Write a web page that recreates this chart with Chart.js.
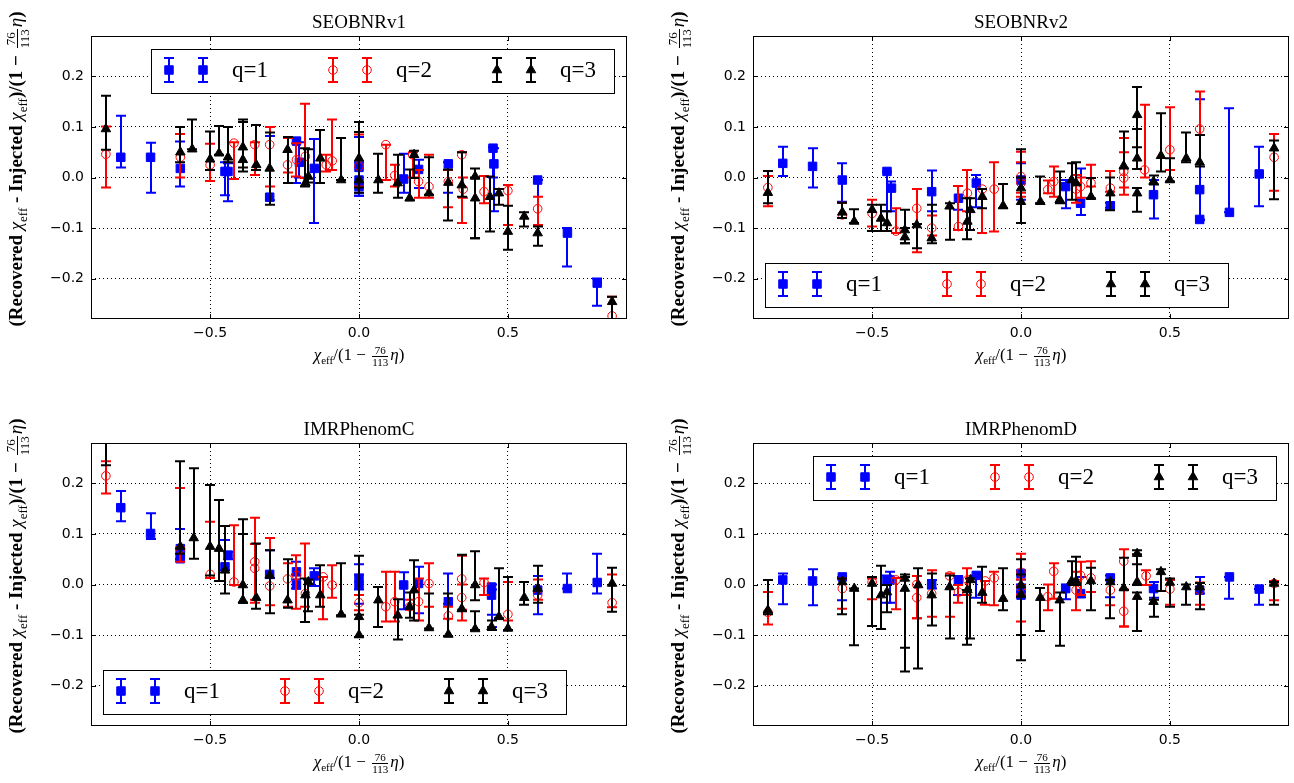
<!DOCTYPE html>
<html>
<head>
<meta charset="utf-8">
<title>Recovered minus injected chi_eff</title>
<script src="https://cdn.jsdelivr.net/npm/chart.js"></script>
<style>
  body { margin: 0; background: #fff; }
  #page { position: relative; width: 1294px; height: 783px; overflow: hidden; font-family: "Liberation Serif", serif; color: #000; }
  canvas { position: absolute; }
  .title { position: absolute; width: 536px; text-align: center; font-size: 19px; line-height: 19px; white-space: nowrap; }
  .xlabel { position: absolute; width: 536px; height: 30px; line-height: 30px; text-align: center; font-size: 17px; white-space: nowrap; }
  .xlabel .frac, .xlabel sub { font-size: 11px; line-height: 11px; }
  .ylabel { position: absolute; width: 460px; height: 30px; line-height: 30px; text-align: center; font-size: 19px; font-weight: bold; white-space: nowrap; transform: rotate(-90deg); }
  .frac { display: inline-flex; flex-direction: column; vertical-align: middle; font-size: 13px; line-height: 13px; text-align: center; font-weight: normal; margin: 0 2px; }
  .frac span:first-child { border-bottom: 1px solid #000; }
  sub { font-size: 13px; font-weight: normal; }
  i { font-weight: normal; }
</style>
</head>
<body>
<div id="page"></div>
<script>
const titles = ["SEOBNRv1", "SEOBNRv2", "IMRPhenomC", "IMRPhenomD"];
const seriesLabels = ["q=1", "q=2", "q=3"];
const xTicks = [-0.5, 0, 0.5];
const yTicks = [-0.2, -0.1, 0, 0.1, 0.2];

// each point: [x, y, lower end, upper end]
const v1_q1 = [
  [-0.80, 0.040, 0.020, 0.122], [-0.70, 0.040, -0.030, 0.069], [-0.60, 0.018, -0.018, 0.071],
  [-0.45, 0.012, -0.035, 0.030], [-0.44, 0.012, -0.047, 0.028], [-0.30, -0.039, -0.045, 0.082],
  [-0.21, 0.072, -0.011, 0.078], [-0.20, 0.030, 0.000, 0.070], [-0.15, 0.018, -0.090, 0.076],
  [0.0, 0.020, -0.036, 0.080], [0.0, -0.005, -0.030, 0.030], [0.0, -0.018, -0.036, 0.020],
  [0.15, -0.003, -0.030, 0.047], [0.20, 0.016, -0.021, 0.035], [0.30, 0.027, -0.030, 0.030],
  [0.45, 0.058, 0.000, 0.060], [0.453, 0.027, -0.067, 0.058], [0.60, -0.005, -0.094, -0.005],
  [0.70, -0.110, -0.176, -0.100], [0.80, -0.209, -0.254, -0.200],
];
const v1_q2 = [
  [-0.85, 0.046, -0.020, 0.101], [-0.60, 0.040, 0.000, 0.086], [-0.50, 0.025, -0.007, 0.067],
  [-0.42, 0.068, -0.003, 0.070], [-0.35, 0.065, 0.005, 0.070], [-0.30, 0.065, -0.018, 0.100],
  [-0.24, 0.025, 0.010, 0.078], [-0.21, 0.035, 0.002, 0.068], [-0.18, 0.042, -0.001, 0.146],
  [-0.11, 0.025, 0.012, 0.045], [-0.09, 0.033, 0.015, 0.115], [0.0, 0.022, -0.018, 0.085],
  [0.09, 0.065, -0.005, 0.065], [0.12, 0.004, -0.018, 0.025], [0.18, 0.045, 0.000, 0.050],
  [0.20, -0.008, -0.040, 0.015], [0.235, -0.018, -0.040, 0.045], [0.30, -0.008, -0.059, 0.015],
  [0.345, 0.045, -0.090, 0.050], [0.35, -0.023, -0.040, 0.000], [0.42, -0.028, -0.051, 0.003],
  [0.50, -0.026, -0.094, -0.015], [0.60, -0.062, -0.094, -0.038], [0.85, -0.274, -0.280, -0.236],
];
const v1_q3 = [
  [-0.85, 0.096, 0.055, 0.162], [-0.60, 0.050, 0.030, 0.100], [-0.56, 0.056, 0.056, 0.115],
  [-0.50, 0.036, 0.015, 0.091], [-0.47, 0.048, 0.045, 0.102], [-0.44, 0.040, 0.030, 0.100],
  [-0.39, 0.060, 0.012, 0.115], [-0.39, 0.035, 0.020, 0.110], [-0.345, 0.025, 0.015, 0.104],
  [-0.30, 0.018, -0.054, 0.089], [-0.24, 0.055, -0.011, 0.080], [-0.18, -0.011, -0.018, 0.058],
  [-0.17, 0.002, -0.010, 0.056], [-0.13, 0.038, -0.011, 0.094], [-0.06, -0.005, -0.005, 0.078],
  [0.0, 0.038, -0.030, 0.110], [0.0, -0.005, -0.020, 0.090], [0.065, -0.005, -0.030, 0.047],
  [0.13, -0.011, -0.040, 0.045], [0.17, -0.041, -0.045, 0.016], [0.185, 0.045, -0.001, 0.053],
  [0.235, -0.031, -0.034, 0.040], [0.30, -0.010, -0.085, 0.016], [0.345, -0.015, -0.038, 0.050],
  [0.39, 0.002, -0.120, 0.018], [0.39, -0.041, -0.120, 0.000], [0.44, -0.038, -0.107, 0.002],
  [0.47, -0.031, -0.054, -0.023], [0.50, -0.107, -0.143, -0.056], [0.555, -0.077, -0.097, -0.069],
  [0.60, -0.110, -0.135, -0.097], [0.85, -0.246, -0.290, -0.236],
];

const v2_q1 = [
  [-0.80, 0.028, 0.003, 0.061], [-0.70, 0.022, -0.020, 0.058], [-0.60, -0.005, -0.048, 0.028],
  [-0.45, 0.012, -0.067, 0.012], [-0.435, -0.021, -0.067, -0.008], [-0.30, -0.028, -0.067, 0.014],
  [-0.21, -0.041, -0.064, -0.017], [-0.15, -0.011, -0.059, 0.005], [0.0, -0.005, -0.044, 0.028],
  [0.15, -0.018, -0.061, -0.005], [0.20, -0.051, -0.074, 0.018], [0.30, -0.056, -0.060, -0.050],
  [0.445, -0.034, -0.081, -0.005], [0.60, -0.024, -0.084, 0.155], [0.60, -0.083, -0.084, -0.083],
  [0.70, -0.069, -0.069, 0.137], [0.80, 0.007, -0.057, 0.061],
];
const v2_q2 = [
  [-0.85, -0.020, -0.057, 0.003], [-0.60, -0.074, -0.080, -0.050], [-0.50, -0.071, -0.097, -0.044],
  [-0.42, -0.106, -0.110, -0.061], [-0.35, -0.061, -0.148, -0.023], [-0.30, -0.100, -0.115, -0.075],
  [-0.21, -0.097, -0.104, -0.017], [-0.18, -0.031, -0.067, 0.015], [-0.13, -0.023, -0.110, -0.023],
  [-0.09, -0.023, -0.107, 0.030], [0.0, 0.002, -0.038, 0.051], [0.0, -0.011, -0.030, 0.030],
  [0.09, -0.024, -0.031, -0.006], [0.11, -0.008, -0.038, 0.022], [0.185, -0.023, -0.050, 0.005],
  [0.20, -0.018, -0.040, 0.000], [0.235, -0.011, -0.018, 0.025], [0.30, -0.021, -0.028, 0.013],
  [0.345, -0.001, -0.034, 0.078], [0.345, 0.012, -0.020, 0.050], [0.415, 0.015, 0.000, 0.144],
  [0.50, 0.055, 0.015, 0.139], [0.60, 0.096, 0.084, 0.170], [0.85, 0.040, -0.026, 0.086],
];
const v2_q3 = [
  [-0.85, -0.030, -0.051, 0.013], [-0.60, -0.069, -0.080, -0.050], [-0.56, -0.087, -0.090, -0.063],
  [-0.50, -0.064, -0.106, -0.054], [-0.47, -0.081, -0.106, -0.054], [-0.45, -0.090, -0.106, -0.067],
  [-0.39, -0.104, -0.130, -0.064], [-0.39, -0.118, -0.130, -0.100], [-0.35, -0.094, -0.140, -0.092],
  [-0.30, -0.120, -0.130, -0.054], [-0.24, -0.057, -0.123, -0.051], [-0.18, -0.087, -0.122, -0.041],
  [-0.17, -0.064, -0.104, -0.041], [-0.13, -0.038, -0.061, -0.023], [-0.06, -0.056, -0.061, -0.013],
  [0.0, -0.021, -0.090, 0.056], [0.0, -0.048, -0.090, 0.000], [0.065, -0.048, -0.051, 0.002],
  [0.13, -0.044, -0.051, 0.012], [0.17, -0.005, -0.044, 0.028], [0.185, -0.011, -0.015, 0.030],
  [0.235, -0.038, -0.041, -0.001], [0.30, -0.031, -0.065, 0.000], [0.345, 0.023, 0.018, 0.091],
  [0.39, 0.124, 0.060, 0.179], [0.39, 0.038, 0.017, 0.096], [0.39, -0.031, -0.068, -0.021],
  [0.445, -0.008, -0.014, 0.004], [0.47, 0.043, 0.012, 0.127], [0.50, -0.005, -0.008, 0.038],
  [0.555, 0.038, 0.030, 0.089], [0.60, 0.030, 0.022, 0.084], [0.85, 0.058, -0.043, 0.073],
];

const c_q1 = [
  [-0.80, 0.152, 0.125, 0.185], [-0.70, 0.101, 0.090, 0.141], [-0.60, 0.071, 0.050, 0.110],
  [-0.60, 0.061, 0.050, 0.072], [-0.60, 0.051, 0.050, 0.072], [-0.45, 0.035, 0.028, 0.088],
  [-0.44, 0.058, 0.050, 0.065], [-0.30, 0.020, 0.013, 0.068], [-0.21, 0.025, 0.020, 0.045],
  [-0.21, -0.001, -0.008, 0.010], [-0.15, 0.017, -0.003, 0.032], [0.0, 0.012, -0.038, 0.040],
  [0.0, -0.001, -0.010, 0.020], [0.15, -0.001, -0.049, 0.024], [0.20, 0.002, -0.057, 0.035],
  [0.30, -0.034, -0.038, 0.022], [0.445, -0.005, -0.084, 0.000], [0.445, -0.021, -0.060, -0.010],
  [0.60, -0.011, -0.059, 0.017], [0.70, -0.008, -0.008, 0.022], [0.80, 0.004, -0.018, 0.061],
];
const c_q2 = [
  [-0.85, 0.215, 0.180, 0.244], [-0.60, 0.071, 0.045, 0.191], [-0.50, 0.020, 0.013, 0.124],
  [-0.42, 0.005, -0.001, 0.117], [-0.35, 0.045, -0.036, 0.132], [-0.35, 0.032, -0.030, 0.080],
  [-0.30, -0.003, -0.041, 0.092], [-0.24, 0.011, -0.044, 0.042], [-0.21, 0.018, -0.048, 0.058],
  [-0.18, -0.018, -0.044, 0.081], [-0.12, 0.015, -0.069, 0.015], [-0.09, -0.001, -0.026, 0.038],
  [0.0, -0.036, -0.051, -0.021], [0.09, -0.044, -0.073, 0.025], [0.12, -0.034, -0.073, 0.025],
  [0.17, -0.044, -0.050, -0.030], [0.20, -0.034, -0.071, 0.012], [0.235, 0.002, -0.044, 0.042],
  [0.30, -0.062, -0.068, -0.044], [0.345, 0.011, -0.071, 0.057], [0.345, -0.026, -0.050, 0.000],
  [0.42, 0.004, -0.021, 0.012], [0.50, -0.059, -0.071, 0.005], [0.60, -0.021, -0.030, 0.010],
  [0.85, -0.036, -0.045, 0.020],
];
const c_q3 = [
  [-0.85, 0.300, 0.236, 0.360], [-0.60, 0.075, 0.061, 0.244], [-0.555, 0.092, 0.051, 0.230],
  [-0.50, 0.075, 0.018, 0.197], [-0.47, 0.071, 0.007, 0.167], [-0.45, 0.028, -0.018, 0.116],
  [-0.39, -0.001, -0.036, 0.129], [-0.39, -0.031, -0.036, 0.100], [-0.345, -0.026, -0.048, 0.081],
  [-0.30, 0.018, -0.057, 0.068], [-0.24, -0.031, -0.046, 0.050], [-0.18, -0.021, -0.074, 0.012],
  [-0.17, 0.005, -0.053, 0.010], [-0.13, -0.021, -0.044, 0.038], [-0.06, -0.059, -0.061, 0.042],
  [0.0, -0.064, -0.104, 0.057], [0.0, -0.100, -0.104, -0.060], [0.065, -0.031, -0.084, -0.005],
  [0.13, -0.061, -0.109, -0.029], [0.17, -0.044, -0.066, -0.016], [0.185, -0.011, -0.071, 0.048],
  [0.235, -0.086, -0.087, -0.018], [0.30, -0.099, -0.102, -0.018], [0.345, -0.048, -0.053, 0.059],
  [0.39, -0.001, -0.031, 0.066], [0.39, -0.088, -0.090, -0.053], [0.445, -0.084, -0.090, -0.071],
  [0.47, -0.064, -0.067, 0.032], [0.50, -0.087, -0.090, 0.015], [0.555, -0.026, -0.040, 0.005],
  [0.60, -0.008, -0.036, 0.037], [0.85, 0.002, -0.054, 0.033],
];

const d_q1 = [
  [-0.80, 0.009, -0.039, 0.022], [-0.70, 0.007, -0.041, 0.030], [-0.60, 0.015, -0.031, 0.015],
  [-0.45, 0.009, -0.036, 0.018], [-0.44, 0.009, -0.036, 0.025], [-0.30, 0.000, -0.008, 0.009],
  [-0.21, 0.009, -0.021, 0.017], [-0.15, 0.018, -0.026, 0.018], [0.0, 0.022, -0.021, 0.026],
  [0.0, -0.008, -0.021, 0.010], [0.0, -0.021, -0.021, 0.000], [0.15, -0.008, -0.029, 0.000],
  [0.20, -0.018, -0.025, 0.015], [0.30, 0.013, -0.025, 0.018], [0.445, -0.008, -0.026, 0.005],
  [0.60, -0.011, -0.018, 0.015], [0.70, 0.015, -0.028, 0.015], [0.80, -0.009, -0.040, -0.009],
];
const d_q2 = [
  [-0.85, -0.055, -0.079, -0.015], [-0.60, -0.008, -0.048, 0.012], [-0.50, 0.005, -0.029, 0.012],
  [-0.42, 0.009, -0.049, 0.013], [-0.35, 0.000, -0.067, 0.017], [-0.35, -0.026, -0.067, 0.017],
  [-0.30, -0.018, -0.064, 0.028], [-0.24, 0.017, -0.064, 0.022], [-0.21, -0.015, -0.036, -0.001],
  [-0.18, 0.009, -0.021, 0.032], [-0.12, 0.007, -0.040, 0.007], [-0.09, 0.013, -0.041, 0.025],
  [0.0, 0.024, -0.073, 0.061], [0.0, -0.005, -0.020, 0.010], [0.09, -0.024, -0.051, 0.000],
  [0.11, 0.026, -0.028, 0.042], [0.185, -0.011, -0.051, 0.025], [0.20, 0.018, -0.021, 0.045],
  [0.235, 0.013, -0.015, 0.046], [0.30, -0.011, -0.041, 0.009], [0.345, 0.046, -0.083, 0.070],
  [0.345, -0.053, -0.083, -0.010], [0.42, 0.017, -0.001, 0.028], [0.50, -0.009, -0.040, 0.009],
  [0.60, -0.011, -0.040, 0.004], [0.85, 0.002, -0.031, 0.007],
];
const d_q3 = [
  [-0.85, -0.051, -0.059, 0.009], [-0.60, 0.005, -0.059, 0.012], [-0.56, -0.008, -0.120, -0.008],
  [-0.50, 0.002, -0.082, 0.015], [-0.47, -0.021, -0.088, 0.037], [-0.45, -0.015, -0.055, -0.001],
  [-0.39, 0.012, -0.172, 0.020], [-0.39, -0.008, -0.125, 0.015], [-0.345, -0.001, -0.166, 0.032],
  [-0.30, -0.021, -0.081, 0.022], [-0.24, -0.005, -0.107, 0.018], [-0.18, -0.011, -0.119, -0.011],
  [-0.17, 0.009, -0.107, 0.012], [-0.13, -0.016, -0.036, 0.035], [-0.06, -0.028, -0.051, 0.032],
  [0.0, -0.001, -0.150, 0.050], [0.0, -0.020, -0.100, 0.020], [0.065, -0.026, -0.092, -0.007],
  [0.13, -0.031, -0.121, -0.016], [0.17, 0.007, -0.001, 0.046], [0.185, 0.007, -0.001, 0.055],
  [0.235, 0.007, -0.051, 0.033], [0.30, 0.005, -0.067, 0.009], [0.345, -0.007, -0.011, 0.053],
  [0.39, 0.061, 0.040, 0.068], [0.39, 0.005, -0.001, 0.060], [0.39, -0.024, -0.092, -0.016],
  [0.445, -0.034, -0.064, -0.030], [0.47, 0.025, -0.013, 0.030], [0.50, 0.004, -0.044, 0.012],
  [0.555, -0.005, -0.040, 0.000], [0.60, -0.005, -0.049, 0.003], [0.85, 0.002, -0.040, 0.005],
];

const panels = [
  { title: titles[0], series: [v1_q1, v1_q2, v1_q3], area: [91, 36], legend: "top" },
  { title: titles[1], series: [v2_q1, v2_q2, v2_q3], area: [753, 36], legend: "bottom" },
  { title: titles[2], series: [c_q1, c_q2, c_q3], area: [91, 443], legend: "bottom" },
  { title: titles[3], series: [d_q1, d_q2, d_q3], area: [753, 443], legend: "top" },
];

const styles = [
  { color: "#0000ff", pointStyle: "rect", radius: 6, fill: "#0000ff" },
  { color: "#ff0000", pointStyle: "circle", radius: 4.3, fill: "rgba(0,0,0,0)" },
  { color: "#000000", pointStyle: "triangle", radius: 5.5, fill: "#000000" },
];

const AREA_W = 536, AREA_H = 283, AXIS_W = 91, PAD_TOP = 36;
const fmt = (v) => (v < 0 ? "−" : "") + Math.abs(v).toFixed(1);

function drawMarker(ctx, st, px, py) {
  const r = st.radius;
  ctx.beginPath();
  if (st.pointStyle === "rect") {
    const s = r * Math.SQRT1_2;
    ctx.rect(px - s, py - s, 2 * s, 2 * s);
  } else if (st.pointStyle === "circle") {
    ctx.arc(px, py, r, 0, Math.PI * 2);
  } else {
    ctx.moveTo(px, py - r);
    ctx.lineTo(px + 0.866 * r, py + 0.5 * r);
    ctx.lineTo(px - 0.866 * r, py + 0.5 * r);
    ctx.closePath();
  }
  ctx.fillStyle = st.fill;
  ctx.fill();
  ctx.strokeStyle = st.color;
  ctx.lineWidth = 1;
  ctx.stroke();
}

function drawBar(ctx, px, top, bot, color) {
  ctx.strokeStyle = color;
  ctx.lineWidth = 2;
  ctx.beginPath();
  ctx.moveTo(px, top); ctx.lineTo(px, bot);
  ctx.moveTo(px - 5, top); ctx.lineTo(px + 5, top);
  ctx.moveTo(px - 5, bot); ctx.lineTo(px + 5, bot);
  ctx.stroke();
}

const errorBars = {
  id: "errorBars",
  beforeDatasetDraw(chart, args) {
    const ds = chart.data.datasets[args.index];
    const { ctx, chartArea: a, scales } = chart;
    ctx.save();
    ctx.beginPath();
    ctx.rect(a.left, a.top, a.right - a.left, a.bottom - a.top);
    ctx.clip();
    ds.data.forEach((p) => {
      const px = Math.round(scales.x.getPixelForValue(p.x));
      drawBar(ctx, px, scales.y.getPixelForValue(p.hi), scales.y.getPixelForValue(p.lo), ds.borderColor);
    });
    ctx.restore();
  },
  afterDraw(chart, args, opts) {
    const { ctx, chartArea: a, scales } = chart;
    ctx.save();
    ctx.strokeStyle = "#000";
    ctx.lineWidth = 1;
    ctx.strokeRect(a.left + 0.5, a.top + 0.5, a.right - a.left - 1, a.bottom - a.top - 1);
    ctx.beginPath();
    xTicks.forEach((v) => {
      const px = Math.round(scales.x.getPixelForValue(v)) + 0.5;
      ctx.moveTo(px, a.bottom); ctx.lineTo(px, a.bottom - 5);
      ctx.moveTo(px, a.top); ctx.lineTo(px, a.top + 5);
    });
    yTicks.forEach((v) => {
      const py = Math.round(scales.y.getPixelForValue(v)) + 0.5;
      ctx.moveTo(a.left, py); ctx.lineTo(a.left + 5, py);
      ctx.moveTo(a.right, py); ctx.lineTo(a.right - 5, py);
    });
    ctx.stroke();

    // legend: two markers per entry, three columns
    const bw = 463, bh = 44;
    const bx = opts.place === "top" ? a.right - 13 - bw : a.left + 12;
    const by = opts.place === "top" ? a.top + 13 : a.bottom - 12 - bh;
    ctx.fillStyle = "#fff";
    ctx.fillRect(bx, by, bw, bh);
    ctx.strokeStyle = "#000";
    ctx.strokeRect(bx + 0.5, by + 0.5, bw, bh);
    const cy = by + 21;
    styles.forEach((st, i) => {
      [18, 52].forEach((dx) => {
        const px = bx + dx + 164 * i;
        drawBar(ctx, px, cy - 12, cy + 12, st.color);
        drawMarker(ctx, st, px, cy);
      });
      ctx.fillStyle = "#000";
      ctx.font = "23px 'Liberation Serif'";
      ctx.textBaseline = "middle";
      ctx.fillText(seriesLabels[i], bx + 81 + 164 * i, cy + 1);
    });
    ctx.restore();
  },
};

const page = document.getElementById("page");
const chiEff = "<i>χ</i><sub>eff</sub>";
const denom = '(1 − <span class="frac"><span>76</span><span>113</span></span><i>η</i>)';

panels.forEach((p) => {
  const [ax, ay] = p.area;
  const canvas = document.createElement("canvas");
  canvas.width = 647;
  canvas.height = 391;
  canvas.style.left = ax - AXIS_W + "px";
  canvas.style.top = ay - PAD_TOP + "px";
  page.appendChild(canvas);

  const title = document.createElement("div");
  title.className = "title";
  title.textContent = p.title;
  title.style.left = ax + "px";
  title.style.top = ay - 24 + "px";
  page.appendChild(title);

  const xl = document.createElement("div");
  xl.className = "xlabel";
  xl.innerHTML = `${chiEff}/${denom}`;
  xl.style.left = ax + "px";
  xl.style.top = ay + AREA_H + 21 + "px";
  page.appendChild(xl);

  const yl = document.createElement("div");
  yl.className = "ylabel";
  yl.innerHTML = `(Recovered ${chiEff} - Injected ${chiEff})/${denom}`;
  yl.style.left = ax - 75 - 230 + "px";
  yl.style.top = ay + AREA_H / 2 - 24 + "px";
  page.appendChild(yl);

  new Chart(canvas, {
    type: "scatter",
    data: {
      datasets: p.series.map((rows, i) => ({
        label: seriesLabels[i],
        order: 2 - i,
        data: rows.map(([x, y, lo, hi]) => ({ x, y, lo, hi })),
        pointStyle: styles[i].pointStyle,
        pointRadius: styles[i].radius,
        backgroundColor: styles[i].fill,
        borderColor: styles[i].color,
        borderWidth: 1,
      })),
    },
    options: {
      responsive: false,
      animation: false,
      events: [],
      layout: { padding: { top: PAD_TOP, right: 647 - AXIS_W - AREA_W, left: 0, bottom: 0 } },
      plugins: {
        legend: { display: false },
        tooltip: { enabled: false },
        errorBars: { place: p.legend },
      },
      scales: {
        x: {
          type: "linear",
          min: -0.9,
          max: 0.9,
          afterBuildTicks: (s) => { s.ticks = xTicks.map((v) => ({ value: v })); },
          afterFit: (s) => { s.height = 391 - PAD_TOP - AREA_H; },
          grid: { color: "#000", lineWidth: 1, drawTicks: false, borderDash: [1, 3] },
          border: { display: false, dash: [1, 3] },
          ticks: { color: "#000", font: { family: "DejaVu Sans", size: 14 }, padding: 6, callback: fmt },
        },
        y: {
          type: "linear",
          min: -0.28,
          max: 0.28,
          afterBuildTicks: (s) => { s.ticks = yTicks.map((v) => ({ value: v })); },
          afterFit: (s) => { s.width = AXIS_W; },
          grid: { color: "#000", lineWidth: 1, drawTicks: false, borderDash: [1, 3] },
          border: { display: false, dash: [1, 3] },
          ticks: { color: "#000", font: { family: "DejaVu Sans", size: 14 }, padding: 7, callback: fmt },
        },
      },
    },
    plugins: [errorBars],
  });
});
</script>
</body>
</html>
